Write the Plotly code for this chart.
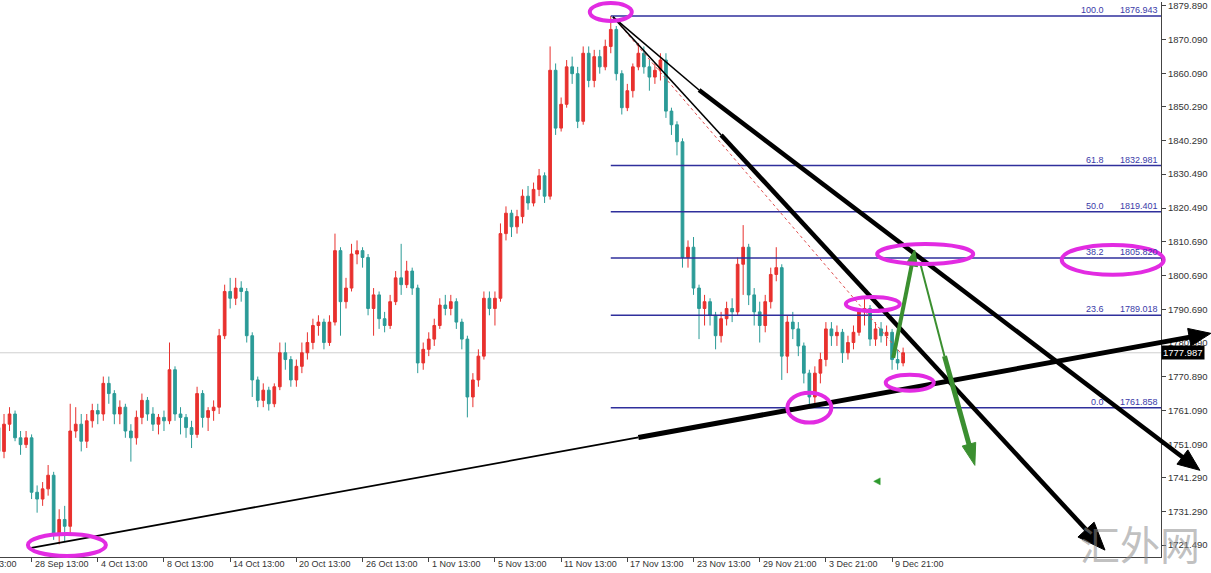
import math
import plotly.graph_objects as go

# ---------------- data (8-hour bars, XAUUSD) ----------------
bar_index = list(range(165))
opens = [1756, 1749, 1757, 1760, 1753, 1751, 1753, 1737, 1735, 1738,
         1742, 1725, 1729, 1727, 1755, 1757, 1752, 1758, 1761, 1760,
         1769, 1766, 1760, 1762, 1755, 1753, 1759, 1764, 1760, 1757,
         1759, 1758, 1773, 1760, 1759, 1756, 1754, 1766, 1759, 1761,
         1762, 1783, 1796, 1794, 1797, 1796, 1783, 1770, 1764, 1767,
         1763, 1768, 1778, 1776, 1770, 1774, 1778, 1781, 1786, 1787,
         1781, 1787, 1808, 1793, 1797, 1807, 1808, 1806, 1791, 1795,
         1788, 1786, 1793, 1800, 1798, 1802, 1797, 1775, 1779, 1782,
         1786, 1792, 1791, 1793, 1787, 1782, 1765, 1770, 1777, 1794,
         1791, 1794, 1813, 1819, 1815, 1818, 1824, 1822, 1826, 1830,
         1824, 1861, 1844, 1851, 1862, 1860, 1846, 1866, 1858, 1865,
         1862, 1868, 1873, 1860, 1850, 1855, 1862, 1866, 1862, 1859,
         1861, 1864, 1849, 1845, 1840, 1806, 1809, 1797, 1791, 1793,
         1789, 1783, 1788, 1791, 1790, 1804, 1809, 1795, 1790, 1786,
         1793, 1801, 1803, 1777, 1787, 1785, 1780, 1772, 1765, 1772,
         1776, 1785, 1783, 1784, 1778, 1781, 1784, 1790, 1791, 1782,
         1785, 1783, 1784, 1776, 1775]
highs = [1759, 1760, 1762, 1761, 1755, 1755, 1754, 1739, 1740, 1745,
         1743, 1732, 1733, 1763, 1762, 1760, 1760, 1763, 1763, 1771,
         1771, 1767, 1764, 1763, 1757, 1761, 1766, 1765, 1762, 1760,
         1761, 1781, 1774, 1762, 1760, 1758, 1768, 1767, 1762, 1764,
         1785, 1798, 1800, 1800, 1799, 1797, 1784, 1771, 1769, 1768,
         1769, 1781, 1781, 1777, 1776, 1781, 1784, 1788, 1789, 1788,
         1789, 1813, 1809, 1800, 1810, 1811, 1809, 1807, 1797, 1796,
         1790, 1795, 1802, 1810, 1805, 1803, 1798, 1781, 1784, 1788,
         1794, 1795, 1795, 1794, 1788, 1783, 1772, 1779, 1796, 1796,
         1796, 1816, 1821, 1820, 1820, 1826, 1827, 1828, 1832, 1831,
         1868, 1863, 1853, 1864, 1865, 1862, 1868, 1868, 1867, 1867,
         1870, 1876.943, 1874, 1861, 1857, 1863, 1869, 1868, 1864, 1863,
         1866, 1866, 1850, 1846, 1841, 1811, 1812, 1798, 1795, 1794,
         1790, 1790, 1793, 1794, 1806, 1815.5, 1810, 1797, 1793, 1795,
         1803, 1809, 1804, 1789, 1790, 1787, 1781, 1773, 1774, 1778,
         1787, 1787, 1786, 1785, 1783, 1786, 1791, 1794, 1792, 1787,
         1787, 1786, 1785, 1779, 1779.5]
lows = [1746, 1747, 1755, 1752, 1748, 1750, 1735, 1731, 1733, 1736,
        1723, 1721.7, 1722.5, 1725, 1753, 1749, 1750, 1756, 1757, 1758,
        1763, 1757, 1757, 1753, 1746, 1751, 1757, 1758, 1755, 1754,
        1755, 1757, 1758, 1754, 1753, 1750, 1753, 1756, 1755, 1758,
        1760, 1782, 1791, 1792, 1793, 1781, 1765, 1762, 1762, 1761,
        1762, 1767, 1773, 1768, 1768, 1772, 1776, 1779, 1783, 1779,
        1780, 1786, 1783, 1791, 1796, 1804, 1803, 1789, 1783, 1785,
        1784, 1785, 1792, 1795, 1797, 1795, 1772, 1773, 1777, 1780,
        1785, 1789, 1789, 1785, 1779, 1759, 1762, 1768, 1776, 1789,
        1786, 1793, 1811, 1812, 1813, 1816, 1820, 1821, 1824, 1822,
        1823, 1842, 1843, 1850, 1857, 1844, 1845, 1856, 1856, 1860,
        1861, 1866, 1858, 1848, 1849, 1853, 1861, 1860, 1855, 1857,
        1858, 1847, 1842, 1836, 1803, 1803, 1795, 1782, 1786, 1786,
        1779, 1781, 1786, 1787, 1789, 1795, 1792, 1786, 1781, 1784,
        1791, 1799, 1770, 1772, 1782, 1777, 1769, 1761.858, 1763, 1769,
        1774, 1780, 1780, 1775, 1776, 1779, 1783, 1786, 1780, 1780,
        1781, 1780, 1773, 1773, 1774]
closes = [1749, 1757, 1760, 1753, 1751, 1753, 1737, 1735, 1738, 1742,
          1725, 1729, 1727, 1755, 1757, 1752, 1758, 1761, 1760, 1769,
          1766, 1760, 1762, 1755, 1753, 1759, 1764, 1760, 1757, 1759,
          1758, 1773, 1760, 1759, 1756, 1754, 1766, 1759, 1761, 1762,
          1783, 1796, 1794, 1797, 1796, 1783, 1770, 1764, 1767, 1763,
          1768, 1778, 1776, 1770, 1774, 1778, 1781, 1786, 1787, 1781,
          1787, 1808, 1793, 1797, 1807, 1808, 1806, 1791, 1795, 1788,
          1786, 1793, 1800, 1798, 1802, 1797, 1775, 1779, 1782, 1786,
          1792, 1791, 1793, 1787, 1782, 1765, 1770, 1777, 1794, 1791,
          1794, 1813, 1819, 1815, 1818, 1824, 1822, 1826, 1830, 1824,
          1861, 1844, 1851, 1862, 1860, 1846, 1866, 1858, 1865, 1862,
          1868, 1873, 1860, 1850, 1855, 1862, 1866, 1862, 1859, 1861,
          1864, 1849, 1845, 1840, 1806, 1809, 1797, 1791, 1793, 1789,
          1783, 1788, 1791, 1790, 1804, 1809, 1795, 1790, 1786, 1793,
          1801, 1803, 1777, 1787, 1785, 1780, 1772, 1765, 1772, 1776,
          1785, 1783, 1784, 1778, 1781, 1784, 1790, 1791, 1782, 1785,
          1783, 1784, 1776, 1775, 1777.987]
last_price = 1777.987

y_tick_values = [1879.890, 1870.090, 1860.090, 1850.290, 1840.290, 1830.490,
                 1820.490, 1810.690, 1800.690, 1790.690, 1780.890, 1770.890,
                 1761.090, 1751.090, 1741.290, 1731.290, 1721.490]
x_tick_bars = [-6, 6, 18, 30, 42, 54, 66, 78, 90, 102, 114, 126, 138, 150, 162]
x_tick_labels = ["22 Sep 13:00", "28 Sep 13:00", "4 Oct 13:00", "8 Oct 13:00",
                 "14 Oct 13:00", "20 Oct 13:00", "26 Oct 13:00", "1 Nov 13:00",
                 "5 Nov 13:00", "11 Nov 13:00", "17 Nov 13:00", "23 Nov 13:00",
                 "29 Nov 21:00", "3 Dec 21:00", "9 Dec 21:00"]

fib_high = 1876.943
fib_low = 1761.858
fib_start_bar = 111
fib_levels = [100.0, 61.8, 50.0, 38.2, 23.6, 0.0]

# trendline anchors (bar index, price)
support_line = [(5.7, 1720.6), (116.0, 1753.1), (219.8, 1783.7)]   # start, thick-from, arrow tip
res_line_a = [(111.4, 1876.67), (127.0, 1855.2), (217.8, 1743.45)]
res_line_b = [(111.4, 1876.67), (131.0, 1842.0), (200.6, 1720.0)]
fib_trend_dotted = [(111.4, 1876.67), (164.3, 1776.5)]
green_up = [(162.2, 1776.5), (166.1, 1808.2)]
green_down = [(167.1, 1804.3), (171.5, 1777.0), (177.0, 1744.9)]
highlight_marks = [(111.0, 1878.1, 21, 9), (12.4, 1721.5, 39, 11), (147.0, 1761.858, 22, 15),
                   (165.2, 1769.2, 24, 8), (158.5, 1792.3, 27, 7), (168.0, 1807.0, 48, 10),
                   (202.0, 1805.3, 51, 15)]
green_marker = (159.3, 1740.2)

# ---------------- geometry ----------------
W, H = 1211, 573
MR, MB = 50, 16
PW = W - MR
PH = H - MB
BAR_PX = 5.516
BAR0_PX = -1.5
XR0 = (0 - BAR0_PX) / BAR_PX
XR1 = (PW - BAR0_PX) / BAR_PX
YMAX = 1881.06
YMIN = YMAX - PH * 0.29279


def to_px(b, p):
    return (b - XR0) / (XR1 - XR0) * PW, (YMAX - p) / (YMAX - YMIN) * PH


def to_paper(x, y):
    return x / PW, 1 - y / PH


shapes = []
annotations = []


def seg_px(x1, y1, x2, y2, color, width, dash="solid", layer="above"):
    a = to_paper(x1, y1)
    b = to_paper(x2, y2)
    shapes.append(dict(type="line", xref="paper", yref="paper", x0=a[0], y0=a[1], x1=b[0], y1=b[1],
                       line=dict(color=color, width=width, dash=dash), layer=layer))


def head_px(x1, y1, x2, y2, color, length, half):
    dx, dy = x2 - x1, y2 - y1
    d = math.hypot(dx, dy)
    ux, uy = dx / d, dy / d
    nx, ny = -uy, ux
    bx, by = x2 - ux * length, y2 - uy * length
    pts = [(x2, y2), (bx + nx * half, by + ny * half), (bx - nx * half, by - ny * half)]
    pp = [to_paper(*q) for q in pts]
    path = "M {} {} L {} {} L {} {} Z".format(pp[0][0], pp[0][1], pp[1][0], pp[1][1], pp[2][0], pp[2][1])
    shapes.append(dict(type="path", xref="paper", yref="paper", path=path,
                       fillcolor=color, line=dict(color=color, width=1), layer="above"))
    return bx + ux * 2, by + uy * 2


def arrow_line(pts, color, w_thin, w_thick, hlen, hhalf):
    p0 = to_px(*pts[0])
    p1 = to_px(*pts[1])
    p2 = to_px(*pts[2])
    seg_px(p0[0], p0[1], p1[0], p1[1], color, w_thin)
    base = head_px(p1[0], p1[1], p2[0], p2[1], color, hlen, hhalf)
    seg_px(p1[0], p1[1], base[0], base[1], color, w_thick)


# bid line
shapes.append(dict(type="line", xref="paper", yref="y", x0=0, x1=1, y0=last_price, y1=last_price,
                   line=dict(color="#cfcfcf", width=1), layer="below"))

# fibonacci levels
fx = to_px(fib_start_bar, fib_high)[0] / PW
fib_col = "#2f2f9c"
for lv in fib_levels:
    price = fib_low + (fib_high - fib_low) * lv / 100.0
    price_txt = "{:.3f}".format(math.floor(price * 1000 + 0.5 + 1e-6) / 1000)
    shapes.append(dict(type="line", xref="paper", yref="y", x0=fx, x1=1, y0=price, y1=price,
                       line=dict(color=fib_col, width=1.5), layer="above"))
    annotations.append(dict(xref="paper", yref="y", x=1105 / PW, y=price, xanchor="right", yanchor="bottom",
                            text="{:.1f}".format(lv), showarrow=False, borderpad=0, yshift=0,
                            font=dict(family="Liberation Sans", size=9, color="#3a3aa8")))
    annotations.append(dict(xref="paper", yref="y", x=1159 / PW, y=price, xanchor="right", yanchor="bottom",
                            text=price_txt, showarrow=False, borderpad=0, yshift=0,
                            font=dict(family="Liberation Sans", size=9, color="#3a3aa8")))

# red dotted fib diagonal
a = to_px(*fib_trend_dotted[0])
b = to_px(*fib_trend_dotted[1])
seg_px(a[0], a[1], b[0], b[1], "#e05050", 1, dash="dot")

# black trendlines
arrow_line(support_line, "black", 1.8, 5, 22, 9)
arrow_line(res_line_a, "black", 1.6, 4.5, 22, 9)
arrow_line(res_line_b, "black", 1.6, 4.5, 28, 11)

# green arrows
g = "#3b8f30"
p0 = to_px(*green_up[0])
p1 = to_px(*green_up[1])
base = head_px(p0[0], p0[1], p1[0], p1[1], g, 16, 6)
seg_px(p0[0], p0[1], base[0], base[1], g, 4)
arrow_line(green_down, g, 2, 5, 22, 7)

# highlight ellipses
for (bb, pr, rx, ry) in highlight_marks:
    cx, cy = to_px(bb, pr)
    x0, y0 = to_paper(cx - rx, cy + ry)
    x1, y1 = to_paper(cx + rx, cy - ry)
    shapes.append(dict(type="circle", xref="paper", yref="paper", x0=x0, y0=y0, x1=x1, y1=y1,
                       line=dict(color="#e22be2", width=4), layer="above"))

# tiny green triangle marker
mx, my = to_px(*green_marker)
pts = [(mx - 3.5, my), (mx + 3, my - 3.5), (mx + 3, my + 3.5)]
pp = [to_paper(*q) for q in pts]
shapes.append(dict(type="path", xref="paper", yref="paper",
                   path="M {} {} L {} {} L {} {} Z".format(pp[0][0], pp[0][1], pp[1][0], pp[1][1], pp[2][0], pp[2][1]),
                   fillcolor="#2e9a2e", line=dict(color="#2e9a2e", width=0.5)))

# x tick labels (left-aligned, MT4 style)
for bb, lab in zip(x_tick_bars, x_tick_labels):
    tx = to_px(bb, 1800)[0]
    annotations.append(dict(xref="paper", yref="paper", x=tx / PW, y=0, xanchor="left", yanchor="top",
                            xshift=2 if bb >= 0 else -3, yshift=-1, text=lab, showarrow=False, borderpad=0,
                            font=dict(family="Liberation Sans", size=9, color="#333333")))

# current price tag
annotations.append(dict(xref="paper", yref="y", x=1, y=last_price, xanchor="left", yanchor="middle",
                        text="{:.3f}".format(last_price), showarrow=False, bgcolor="black", borderpad=1,
                        font=dict(family="Liberation Sans", size=9.5, color="white")))

# watermark
wx, wy = to_paper(1140, 543)
annotations.append(dict(xref="paper", yref="paper", x=wx, y=wy, xanchor="center", yanchor="middle",
                        text="汇外网", showarrow=False,
                        font=dict(family="Noto Sans CJK SC", size=40, color="rgba(140,140,140,0.55)")))

fig = go.Figure(go.Candlestick(
    x=bar_index, open=opens, high=highs, low=lows, close=closes,
    increasing=dict(line=dict(color="#e8312e", width=1), fillcolor="#e8312e"),
    decreasing=dict(line=dict(color="#2b9b97", width=1), fillcolor="#2b9b97"),
    whiskerwidth=0, hoverinfo="skip"))

fig.update_layout(
    width=W, height=H, margin=dict(l=0, r=MR, t=0, b=MB),
    paper_bgcolor="white", plot_bgcolor="white", showlegend=False,
    xaxis=dict(range=[XR0, XR1], rangeslider=dict(visible=False), showgrid=False, zeroline=False,
               showline=True, linecolor="#444", linewidth=1, ticks="outside", ticklen=4, tickcolor="#444",
               tickvals=[v for v in x_tick_bars if v >= XR0], showticklabels=False),
    yaxis=dict(side="right", range=[YMIN, YMAX], tickvals=y_tick_values,
               ticktext=["{:.3f}".format(v) for v in y_tick_values],
               ticklabeloverflow="allow",
               showgrid=False, zeroline=False, showline=True, linecolor="#444", linewidth=1,
               ticks="outside", ticklen=4, tickcolor="#444",
               tickfont=dict(family="Liberation Sans", size=9.5, color="#333333")),
    shapes=shapes, annotations=annotations,
)

fig.write_html("out.html", config={"displayModeBar": False},
               post_script="document.body.style.margin='0px';")
